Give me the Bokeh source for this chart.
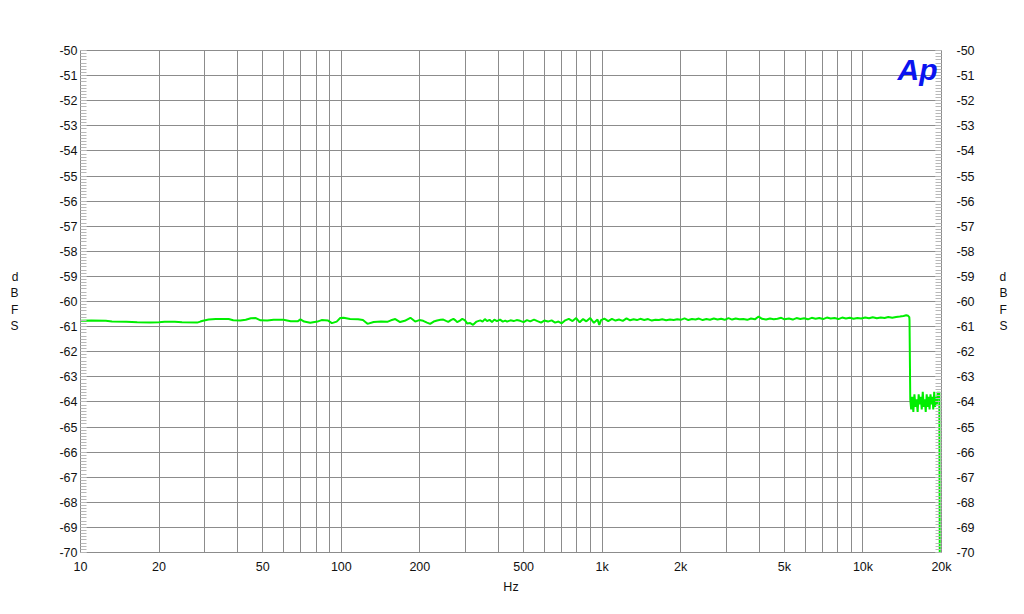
from bokeh.plotting import figure
from bokeh.models import LinearAxis, FixedTicker, SingleIntervalTicker, Label, Range1d
from bokeh.embed import file_html
from bokeh.resources import INLINE

# ---- data ----
freq_hz = [
    10, 11, 12.5, 13.2, 15, 16.5, 18.5, 20, 21, 23, 24.5, 28, 28.8, 29.5, 31, 33, 37, 38.5,
    41, 43, 45, 47, 49, 52, 55, 60, 64, 68, 69.7, 72, 76, 81, 84, 89, 92, 96, 99, 102, 108,
    116, 121, 126, 133, 142, 150, 155, 161, 168, 175, 184, 192, 199, 206, 213, 219, 226,
    233, 240, 246, 252, 257, 263, 269, 274, 278, 285, 291, 298, 304, 312, 320, 330, 341,
    348, 355, 362, 370, 378, 386, 395, 406, 416, 425, 432, 445, 458, 470, 485,
    500, 515, 530, 548, 565, 583, 600, 620, 640, 660, 680, 700, 722, 745, 770, 795, 820,
    845, 870, 900, 930, 960, 975, 990, 1020, 1055, 1090, 1125, 1160, 1200, 1240, 1280,
    1320, 1360, 1400, 1450, 1500, 1550, 1600, 1650, 1700, 1760, 1820, 1880, 1940, 2000,
    2070, 2140, 2210, 2280, 2350, 2430, 2510, 2590, 2680, 2770, 2860, 2950, 3050, 3150,
    3250, 3360,
    3480, 3600, 3720, 3850, 3980, 4100, 4250, 4400, 4550, 4700, 4860, 5000, 5200, 5380,
    5560, 5750, 5950, 6150, 6360, 6580, 6800, 7030, 7270, 7520, 7780, 8050, 8320, 8600,
    8900, 9200, 9520, 9850, 10200, 10550, 10900, 11300, 11700, 12100, 12500, 12950,
    13400, 13850, 14300, 14650, 14900, 15050, 15080, 15180,
    15300, 15450, 15600, 15750, 15900, 16050, 16200, 16350, 16500, 16650, 16800, 16950,
    17100, 17250, 17400, 17550, 17700, 17850, 18000, 18150, 18300, 18450, 18600, 18750,
    18900, 19050, 19200, 19350, 19500, 19620, 19700,
]
level_dbfs = [
    -60.77, -60.76, -60.77, -60.80, -60.81, -60.83, -60.84, -60.83, -60.81, -60.81, -60.83,
    -60.84, -60.80, -60.77, -60.72, -60.70, -60.70, -60.75, -60.76, -60.73, -60.67, -60.66,
    -60.75, -60.76, -60.73, -60.73, -60.79, -60.79, -60.71, -60.80, -60.85, -60.80, -60.74,
    -60.76, -60.86, -60.80, -60.66, -60.65, -60.70, -60.71, -60.74, -60.89, -60.82, -60.80,
    -60.81, -60.75, -60.70, -60.82, -60.77, -60.65, -60.80, -60.74, -60.77, -60.84, -60.89,
    -60.80, -60.76, -60.73, -60.72, -60.77, -60.81, -60.74, -60.69, -60.75, -60.82, -60.76,
    -60.69, -60.75, -60.88, -60.86, -60.93, -60.80, -60.75, -60.80, -60.70, -60.78, -60.73,
    -60.82, -60.72, -60.78, -60.72, -60.80, -60.76, -60.80, -60.75, -60.78, -60.74, -60.77,
    -60.82, -60.74, -60.79, -60.72, -60.78, -60.84, -60.76, -60.80, -60.75, -60.84, -60.80,
    -60.87, -60.75, -60.69, -60.78, -60.66, -60.83, -60.70, -60.79, -60.66, -60.85, -60.72,
    -60.93, -60.74, -60.68, -60.78, -60.69, -60.76, -60.72, -60.77, -60.67, -60.75, -60.71,
    -60.74, -60.69, -60.74, -60.70, -60.76, -60.73, -60.74, -60.71, -60.75, -60.72, -60.74,
    -60.71, -60.73, -60.67, -60.74, -60.70, -60.72, -60.68, -60.74, -60.70, -60.73, -60.68,
    -60.72, -60.69, -60.73, -60.66, -60.72, -60.68, -60.71,
    -60.70, -60.73, -60.68, -60.71, -60.60, -60.69, -60.72, -60.68, -60.71, -60.69, -60.65,
    -60.71, -60.68, -60.72, -60.66, -60.70, -60.67, -60.71, -60.65, -60.69, -60.66, -60.70,
    -60.64, -60.68, -60.66, -60.70, -60.64, -60.68, -60.65, -60.69, -60.66, -60.68, -60.64,
    -60.67, -60.63, -60.67, -60.64, -60.66, -60.62, -60.65, -60.62, -60.60, -60.58, -60.55,
    -60.57, -60.62, -60.75, -63.90,
    -64.30, -63.80, -64.40, -63.70, -64.20, -63.90, -64.40, -63.70, -64.10, -63.80, -64.30,
    -63.60, -64.20, -63.90, -64.40, -63.70, -64.20, -63.80, -64.30, -63.70, -64.10, -63.80,
    -64.30, -63.60, -64.20, -63.80, -64.10, -63.60, -63.90, -63.60, -71.00,
]

x_tick_values = [10, 20, 50, 100, 200, 500, 1000, 2000, 5000, 10000, 20000]
x_tick_labels = ["10", "20", "50", "100", "200", "500", "1k", "2k", "5k", "10k", "20k"]
x_grid_values = [m * d for d in (10, 100, 1000, 10000) for m in range(1, 10) if m * d <= 20000] + [20000]
y_tick_values = list(range(-70, -49))
y_tick_labels = [str(v) for v in y_tick_values]

FONT = "Liberation Sans"
GRID = "#8c8c8c"
MINOR = "#b8b8b8"

p = figure(width=1016, height=606, x_axis_type="log",
           x_range=Range1d(10, 20000), y_range=Range1d(-70, -50),
           output_backend="svg", toolbar_location=None,
           min_border_left=80, min_border_right=75, min_border_top=50, min_border_bottom=54,
           background_fill_color="white", border_fill_color="white")
p.outline_line_color = GRID
p.outline_line_width = 1

p.add_layout(LinearAxis(), "right")

# x axis
xa = p.xaxis[0]
xa.ticker = FixedTicker(ticks=x_tick_values, minor_ticks=[])
xa.major_label_overrides = {v: s for v, s in zip(x_tick_values, x_tick_labels)}
xa.major_tick_in = 0
xa.major_tick_out = 0
xa.minor_tick_in = 0
xa.minor_tick_out = 0
xa.axis_line_color = GRID
xa.major_label_standoff = 7
xa.major_label_text_font = FONT
xa.major_label_text_font_size = "12.5px"
xa.major_label_text_color = "#111111"
xa.axis_label = "Hz"
xa.axis_label_text_font = FONT
xa.axis_label_text_font_size = "12.5px"
xa.axis_label_text_font_style = "normal"
xa.axis_label_text_color = "#111111"
xa.axis_label_standoff = 3

for i, ya in enumerate(p.yaxis):
    ya.ticker = SingleIntervalTicker(interval=1, num_minor_ticks=8)
    ya.major_label_overrides = {v: s for v, s in zip(y_tick_values, y_tick_labels)}
    ya.major_tick_in = 6
    ya.major_tick_out = 0
    ya.minor_tick_in = 6
    ya.minor_tick_out = 0
    ya.major_tick_line_color = MINOR
    ya.minor_tick_line_color = MINOR
    ya.axis_line_color = GRID
    ya.major_label_text_font = FONT
    ya.major_label_text_font_size = "12.5px"
    ya.major_label_text_color = "#111111"
    ya.axis_label = "d\nB\nF\nS"
    ya.axis_label_orientation = "horizontal"
    ya.axis_label_text_font = FONT
    ya.axis_label_text_font_size = "12px"
    ya.axis_label_text_font_style = "normal"
    ya.axis_label_text_color = "#111111"
    ya.axis_label_text_line_height = 1.15
    if i == 0:
        ya.major_label_standoff = 3
        ya.axis_label_standoff = 38
    else:
        ya.major_label_standoff = 15
        ya.axis_label_standoff = 22

p.xgrid.ticker = FixedTicker(ticks=x_grid_values, minor_ticks=[])
p.xgrid.grid_line_color = GRID
p.ygrid.grid_line_color = GRID
p.xgrid.grid_line_alpha = 1
p.ygrid.grid_line_alpha = 1

p.line(freq_hz, level_dbfs, line_color="#00ee00", line_width=2)

p.add_layout(Label(x=19300, y=-50.1, text="Ap", text_font=FONT,
                   text_font_style="bold italic", text_font_size="30px",
                   text_color="#0a14f0", text_align="right", text_baseline="top"))

open("out.html", "w").write(file_html(p, INLINE))
